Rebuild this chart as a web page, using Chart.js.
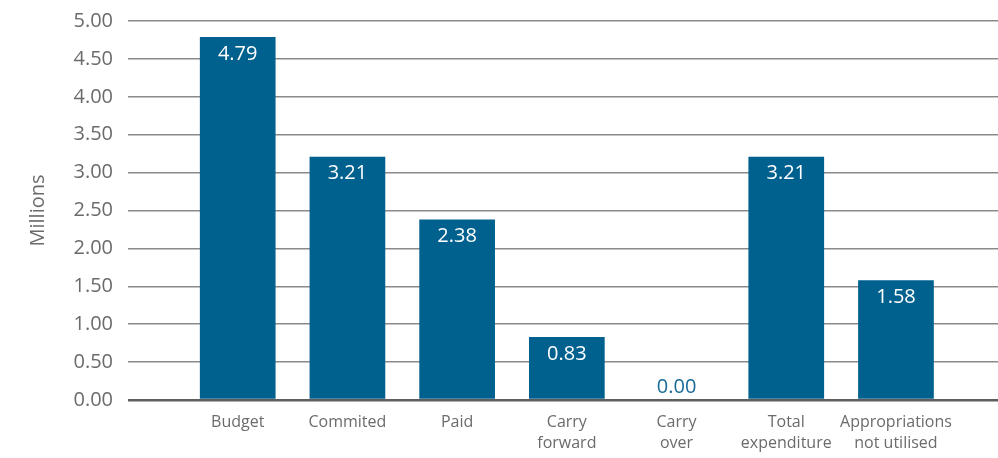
<!DOCTYPE html>
<html>
<head>
<meta charset="utf-8">
<script src="https://cdn.jsdelivr.net/npm/chart.js@4/dist/chart.umd.min.js"></script>
<style>
  html, body { margin: 0; padding: 0; background: #fff; overflow: hidden; }
  #wrap { width: 998px; height: 458px; position: relative; }
</style>
</head>
<body>
<div id="wrap"><canvas id="chart-budget"></canvas></div>
<script>
const categories = [
  'Budget',
  'Commited',
  'Paid',
  ['Carry', 'forward'],
  ['Carry', 'over'],
  ['Total', 'expenditure'],
  ['Appropriations', 'not utilised'],
];
const values = [4.79, 3.21, 2.38, 0.83, 0.0, 3.21, 1.58];
const yTicks = { min: 0, max: 5, step: 0.5 };

const barColor = '#00618f';
const textGray = '#6b6b6b';

const valueLabels = {
  id: 'valueLabels',
  afterDatasetsDraw(chart) {
    const ctx = chart.ctx;
    const meta = chart.getDatasetMeta(0);
    ctx.save();
    ctx.font = '20px "Open Sans"';
    ctx.textAlign = 'center';
    meta.data.forEach((bar, i) => {
      const text = values[i].toFixed(2);
      if (values[i] > 0.3) {
        ctx.fillStyle = '#ffffff';
        ctx.textBaseline = 'top';
        ctx.fillText(text, bar.x, bar.y + 7);
      } else {
        ctx.fillStyle = '#1a6a98';
        ctx.textBaseline = 'bottom';
        ctx.fillText(text, bar.x, bar.y - 3);
      }
    });
    ctx.restore();
  },
};

new Chart(document.querySelector('#chart-budget'), {
  type: 'bar',
  data: {
    datasets: [
      {
        data: values.map((value, i) => ({ x: i + 1, y: value })),
        backgroundColor: barColor,
        borderWidth: 0,
        categoryPercentage: 1,
        barPercentage: 0.69,
      },
    ],
  },
  options: {
    responsive: true,
    maintainAspectRatio: false,
    animation: false,
    layout: {
      padding: { top: 21, right: 0, bottom: 0, left: 0 },
    },
    plugins: {
      legend: { display: false },
      tooltip: { enabled: false },
    },
    scales: {
      x: {
        type: 'linear',
        min: 0,
        max: 7.93,
        offset: false,
        grid: { display: false, offset: false },
        border: { display: false },
        ticks: {
          stepSize: 1,
          includeBounds: false,
          autoSkip: false,
          maxRotation: 0,
          padding: 4,
          color: textGray,
          font: { family: 'Open Sans', size: 16, lineHeight: 1.3 },
          callback: (value) => categories[value - 1] ?? '',
        },
        afterFit: (scale) => {
          scale.height = 58;
        },
      },
      y: {
        min: yTicks.min,
        max: yTicks.max,
        border: { display: false },
        grid: {
          drawTicks: false,
          color: (ctx) => (ctx.tick && ctx.tick.value === 0 ? '#5e5e5e' : '#8a8a8a'),
          lineWidth: (ctx) => (ctx.tick && ctx.tick.value === 0 ? 2.5 : 1.5),
        },
        ticks: {
          stepSize: yTicks.step,
          padding: 15,
          color: textGray,
          font: { family: 'Open Sans', size: 20 },
          callback: (value) => value.toFixed(2),
        },
        title: {
          display: true,
          text: 'Millions',
          color: textGray,
          padding: { top: 26, bottom: 0 },
          font: { family: 'Open Sans', size: 20 },
        },
        afterFit: (scale) => {
          scale.width = 128;
          scale.paddingTop = 0;
          scale.paddingBottom = 0;
        },
      },
    },
  },
  plugins: [valueLabels],
});
</script>
</body>
</html>
